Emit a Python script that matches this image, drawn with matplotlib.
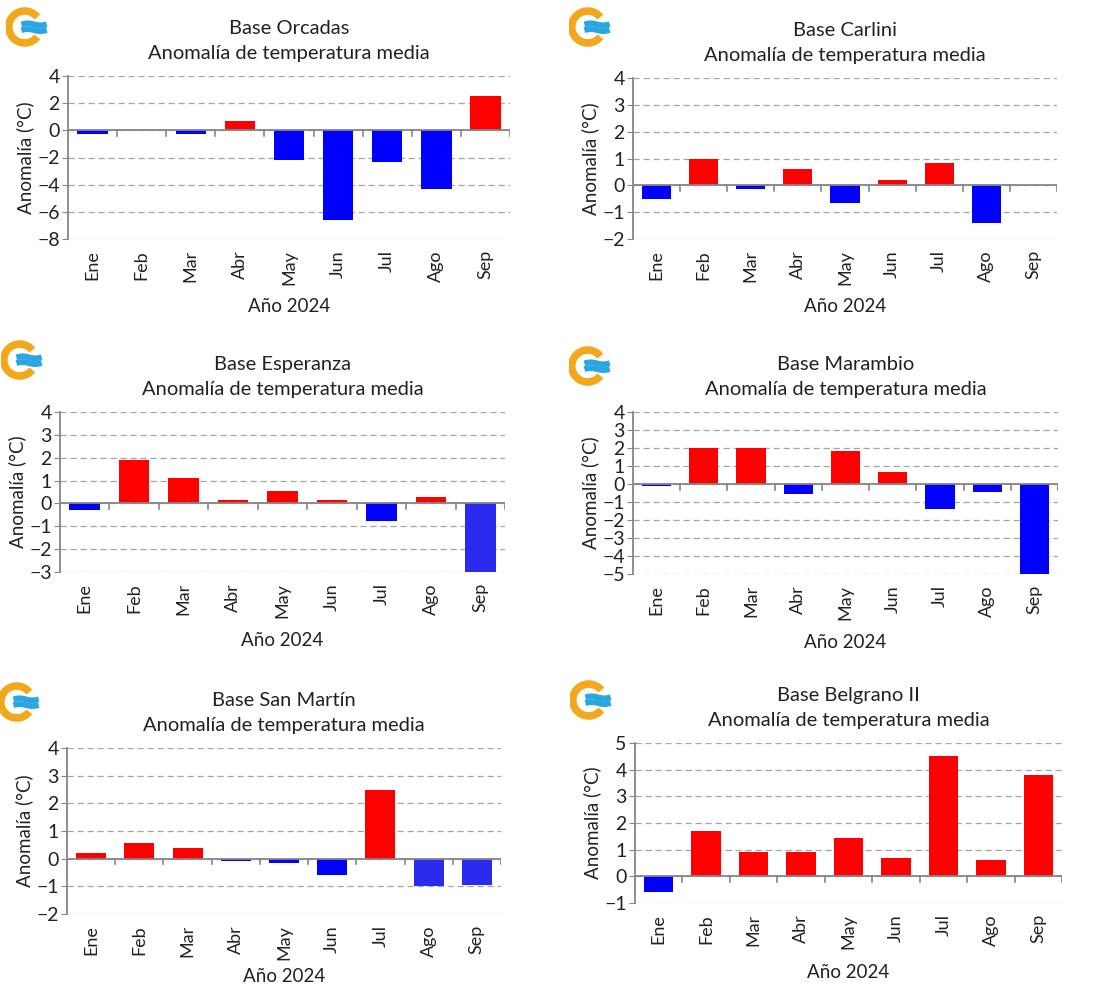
import matplotlib.pyplot as plt
import numpy as np
from matplotlib.patches import Arc

plt.rcParams['font.family'] = ['Lato', 'DejaVu Sans']

months = ["Ene", "Feb", "Mar", "Abr", "May", "Jun", "Jul", "Ago", "Sep"]

# anomalias (°C)
orcadas = [-0.3, np.nan, -0.3, 0.7, -2.2, -6.6, -2.3, -4.3, 2.5]
carlini = [-0.5, 1.0, -0.15, 0.6, -0.65, 0.2, 0.85, -1.4, np.nan]
esperanza = [-0.3, 1.9, 1.1, 0.15, 0.55, 0.15, -0.75, 0.3, -3.0]
marambio = [-0.1, 2.0, 2.0, -0.55, 1.85, 0.65, -1.4, -0.45, -5.0]
san_martin = [0.2, 0.55, 0.4, -0.1, -0.15, -0.6, 2.5, -1.0, -0.95]
belgrano = [-0.6, 1.7, 0.9, 0.9, 1.45, 0.7, 4.5, 0.6, 3.8]

stations = ["Base Orcadas", "Base Carlini", "Base Esperanza",
            "Base Marambio", "Base San Martín", "Base Belgrano II"]
series = [orcadas, carlini, esperanza, marambio, san_martin, belgrano]
yranges = [(-8, 4, 2), (-2, 4, 1), (-3, 4, 1), (-5, 4, 1), (-2, 4, 1), (-1, 5, 1)]
# barras con azul algo mas claro en el original
light_blue = {"Base Esperanza": [8], "Base San Martín": [7, 8]}

W, H = 1104, 989
# axes boxes in pixels: left, top, right, bottom
boxes = [(68, 76, 510, 239), (633, 78, 1057, 239),
         (60, 412, 505, 572), (633, 412, 1058, 574),
         (67, 748, 501, 914), (635, 743, 1062, 903)]
logos = [(28, 27), (591, 27), (23, 360), (591, 366), (20, 702), (592, 700)]
xlabel_y = [307, 307, 641, 642, 977, 972]

fig = plt.figure(figsize=(W / 100, H / 100), dpi=100)


def draw_logo(cx, cy):
    # logo aproximado: anillo naranja abierto + ondas celestes
    ax = fig.add_axes([(cx - 22) / W, 1 - (cy + 22) / H, 44 / W, 44 / H])
    ax.set_xlim(-1, 1)
    ax.set_ylim(-1, 1)
    ax.axis('off')
    ax.add_patch(Arc((-0.15, 0), 1.45, 1.45, theta1=38, theta2=322,
                     color='#F2A81D', lw=5.5))
    t = np.linspace(-0.3, 0.85, 60)
    for off in (0.12, -0.14):
        ax.plot(t, off + 0.045 * np.sin((t + 0.3) * 5.5), color='#2AA7E3',
                lw=4.2, solid_capstyle='butt')


x = np.arange(len(months))
for i in range(6):
    l, t, r, b = boxes[i]
    ax = fig.add_axes([l / W, 1 - b / H, (r - l) / W, (b - t) / H])
    vals = np.array(series[i], dtype=float)
    cols = []
    for j, v in enumerate(vals):
        if v >= 0:
            cols.append('#FF0000')
        elif j in light_blue.get(stations[i], []):
            cols.append('#2B2BF0')
        else:
            cols.append('#0000FF')
    ax.bar(x, np.nan_to_num(vals), width=0.62, color=cols, zorder=3)

    lo, hi, step = yranges[i]
    ax.set_ylim(lo, hi)
    ax.set_xlim(-0.5, len(months) - 0.5)
    ax.set_yticks(np.arange(lo, hi + 0.01, step))
    ax.yaxis.grid(True, linestyle=(0, (5, 3)), color='#A6A6A6', lw=0.9)
    ax.set_axisbelow(True)
    for s in ['top', 'right', 'bottom']:
        ax.spines[s].set_visible(False)
    ax.spines['left'].set_color('#868686')
    ax.spines['left'].set_linewidth(1.3)
    ax.tick_params(axis='y', length=4, color='#868686', labelsize=14,
                   pad=2, labelcolor='#222222')
    ax.tick_params(axis='x', length=0, labelsize=13, labelrotation=90,
                   pad=8, labelcolor='#222222')
    ax.set_xticks(x)
    ax.set_xticklabels(months)

    # linea del cero con marcas entre categorias
    ax.axhline(0, color='#868686', lw=1.3, zorder=4)
    tick_len = (hi - lo) * 0.035
    for k in range(len(months) + 1):
        ax.plot([k - 0.5, k - 0.5], [0, -tick_len], color='#868686',
                lw=1.2, zorder=4)
    fig.text((l + r) / 2 / W, 1 - xlabel_y[i] / H, "Año 2024", fontsize=13.5,
             color='#222222', ha='center', va='center')
    ax.set_ylabel("Anomalía (°C)", fontsize=13.5, labelpad=2, color='#222222')
    ax.set_title(stations[i] + "\nAnomalía de temperatura media",
                 fontsize=14.5, color='#222222', linespacing=1.6, pad=12)

    draw_logo(*logos[i])

fig.savefig("out.png", dpi=100, facecolor='white')
